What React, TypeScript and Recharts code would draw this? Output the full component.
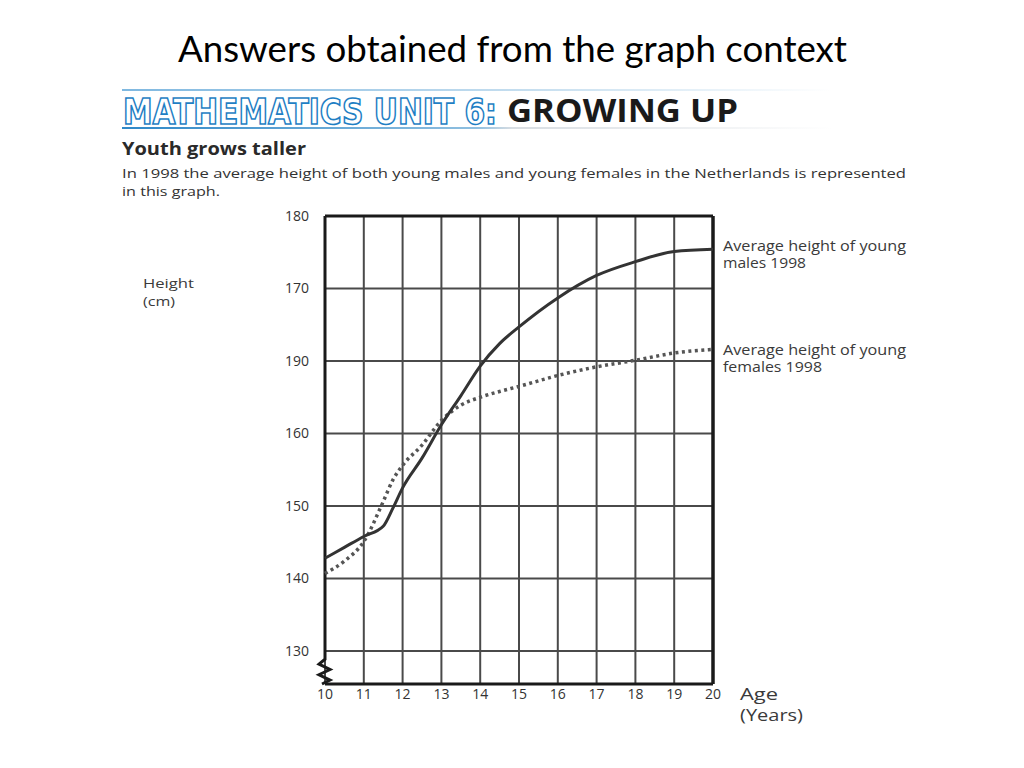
import React from "react";
import {
  LineChart,
  Line,
  XAxis,
  YAxis,
  CartesianGrid,
  ReferenceLine,
  ReferenceArea,
} from "recharts";

const ages = [10, 10.5, 11, 11.5, 11.75, 12, 12.5, 13, 13.5, 14, 14.5, 15, 16, 17, 18, 19, 20];
const maleHeights = [142.8, 144.3, 145.8, 147.2, 149.7, 152.5, 156.6, 161.2, 165.2, 169.3, 172.4, 174.7, 178.7, 181.8, 183.7, 185.1, 185.4];
const femaleHeights = [140.7, 142.4, 145.1, 150.6, 153.6, 155.6, 158.4, 161.8, 163.9, 165.0, 165.8, 166.5, 168.0, 169.2, 170.1, 171.1, 171.6];

const xTicks = [10, 11, 12, 13, 14, 15, 16, 17, 18, 19, 20];
const yTicks = [130, 140, 150, 160, 170, 180, 190];
const yTickLabels = ["130", "140", "150", "160", "190", "170", "180"];

const data = ages.map((age, i) => ({
  age,
  male: maleHeights[i],
  female: femaleHeights[i],
}));

const Y_MIN = 125.45;
const Y_MAX = 190;

const Zigzag = (props: any) => {
  const { x, y, height } = props;
  const h = height;
  const pts = [
    [0, 0],
    [0, h * 0.25],
    [-6, h * 0.4],
    [5, h * 0.56],
    [-6, h * 0.72],
    [5, h * 0.88],
    [-3, h],
  ];
  const d = pts.map((p, i) => `${i === 0 ? "M" : "L"}${x + p[0]},${y + p[1]}`).join(" ");
  return <path d={d} fill="none" stroke="#1a1a1a" strokeWidth={3} strokeLinejoin="miter" />;
};

const textFont = "'Open Sans', 'Noto Sans', sans-serif";

export default function App() {
  return (
    <div
      style={{
        position: "absolute",
        left: 0,
        top: 0,
        width: 1024,
        height: 768,
        background: "#ffffff",
        overflow: "hidden",
      }}
    >
      <svg
        width={1024}
        height={768}
        style={{ position: "absolute", left: 0, top: 0 }}
      >
        <defs>
          <linearGradient id="topLine" x1="0" x2="1" y1="0" y2="0">
            <stop offset="0" stopColor="#7fb8e0" />
            <stop offset="0.6" stopColor="#c9e0f0" />
            <stop offset="1" stopColor="#ffffff" />
          </linearGradient>
          <linearGradient id="botLine" x1="0" x2="1" y1="0" y2="0">
            <stop offset="0" stopColor="#2f88c8" />
            <stop offset="0.5" stopColor="#8fbfe0" />
            <stop offset="0.55" stopColor="#d8dde2" />
            <stop offset="1" stopColor="#ffffff" />
          </linearGradient>
        </defs>
        <text
          x={178}
          y={62}
          fontFamily="Lato, 'Open Sans', sans-serif"
          fontSize={36}
          fill="#000"
          textLength={669}
          lengthAdjust="spacingAndGlyphs"
        >
          Answers obtained from the graph context
        </text>
        <rect x={122} y={89} width={710} height={2} fill="url(#topLine)" />
        <rect x={122} y={127} width={710} height={2} fill="url(#botLine)" />
        <text
          x={123}
          y={124}
          fontFamily="'DejaVu Sans Condensed', 'DejaVu Sans', sans-serif"
          fontWeight="bold"
          fontSize={36}
          fill="#ffffff"
          stroke="#1f7fc4"
          strokeWidth={1.6}
          textLength={374}
          lengthAdjust="spacingAndGlyphs"
        >
          MATHEMATICS UNIT 6:
        </text>
        <text
          x={507}
          y={122}
          fontFamily="'Open Sans', 'Noto Sans', sans-serif"
          fontWeight="bold"
          fontSize={33}
          fill="#1a1a1a"
          textLength={231}
          lengthAdjust="spacingAndGlyphs"
        >
          GROWING UP
        </text>
        <text
          x={122}
          y={155}
          fontFamily={textFont}
          fontWeight="bold"
          fontSize={18}
          fill="#2a2a2a"
          textLength={184}
          lengthAdjust="spacingAndGlyphs"
        >
          Youth grows taller
        </text>
        <text
          x={122}
          y={178}
          fontFamily={textFont}
          fontSize={13.5}
          fill="#333"
          textLength={784}
          lengthAdjust="spacingAndGlyphs"
        >
          In 1998 the average height of both young males and young females in the Netherlands is represented
        </text>
        <text
          x={122}
          y={196}
          fontFamily={textFont}
          fontSize={13.5}
          fill="#333"
          textLength={98}
          lengthAdjust="spacingAndGlyphs"
        >
          in this graph.
        </text>
        <text x={143} y={288} fontFamily={textFont} fontSize={13.5} fill="#3a3a3a" textLength={51} lengthAdjust="spacingAndGlyphs">
          Height
        </text>
        <text x={143} y={306} fontFamily={textFont} fontSize={13.5} fill="#3a3a3a" textLength={32} lengthAdjust="spacingAndGlyphs">
          (cm)
        </text>
        <text x={723} y={251} fontFamily={textFont} fontSize={14} fill="#3a3a3a" textLength={183} lengthAdjust="spacingAndGlyphs">
          Average height of young
        </text>
        <text x={723} y={268} fontFamily={textFont} fontSize={14} fill="#3a3a3a" textLength={83} lengthAdjust="spacingAndGlyphs">
          males 1998
        </text>
        <text x={723} y={355} fontFamily={textFont} fontSize={14} fill="#3a3a3a" textLength={183} lengthAdjust="spacingAndGlyphs">
          Average height of young
        </text>
        <text x={723} y={372} fontFamily={textFont} fontSize={14} fill="#3a3a3a" textLength={99} lengthAdjust="spacingAndGlyphs">
          females 1998
        </text>
        <text x={740} y={700} fontFamily={textFont} fontSize={17} fill="#3a3a3a" textLength={38} lengthAdjust="spacingAndGlyphs">
          Age
        </text>
        <text x={740} y={721} fontFamily={textFont} fontSize={17} fill="#3a3a3a" textLength={63} lengthAdjust="spacingAndGlyphs">
          (Years)
        </text>
      </svg>
      <div style={{ position: "absolute", left: 0, top: 0 }}>
        <LineChart
          width={1024}
          height={768}
          data={data}
          margin={{ top: 216, right: 311, bottom: 54, left: 275 }}
        >
          <CartesianGrid stroke="#4a4a4a" strokeWidth={2} />
          <XAxis
            type="number"
            dataKey="age"
            domain={[10, 20]}
            ticks={xTicks}
            interval={0}
            height={30}
            tickSize={0}
            tickMargin={5}
            tickLine={false}
            axisLine={{ stroke: "#1a1a1a", strokeWidth: 3 }}
            tick={{ fill: "#333", fontSize: 14, fontFamily: textFont }}
          />
          <YAxis
            type="number"
            domain={[Y_MIN, Y_MAX]}
            allowDataOverflow
            ticks={yTicks}
            interval={0}
            width={50}
            tickSize={0}
            tickMargin={16}
            tickLine={false}
            axisLine={false}
            tickFormatter={(v: number) => yTickLabels[yTicks.indexOf(v)] ?? String(v)}
            tick={{ fill: "#333", fontSize: 14, fontFamily: textFont }}
          />
          <ReferenceLine y={190} stroke="#1a1a1a" strokeWidth={3} />
          <ReferenceLine x={20} stroke="#1a1a1a" strokeWidth={3.5} />
          <ReferenceLine
            segment={[
              { x: 10, y: 130 },
              { x: 10, y: 190 },
            ]}
            stroke="#1a1a1a"
            strokeWidth={3}
          />
          <ReferenceArea
            x1={10}
            x2={10.2}
            y1={Y_MIN}
            y2={130}
            shape={<Zigzag />}
          />
          <Line
            type="monotone"
            dataKey="female"
            stroke="#555"
            strokeWidth={3.5}
            strokeDasharray="3 3.5"
            dot={false}
            activeDot={false}
            isAnimationActive={false}
          />
          <Line
            type="monotone"
            dataKey="male"
            stroke="#333"
            strokeWidth={3}
            dot={false}
            activeDot={false}
            isAnimationActive={false}
          />
        </LineChart>
      </div>
    </div>
  );
}
